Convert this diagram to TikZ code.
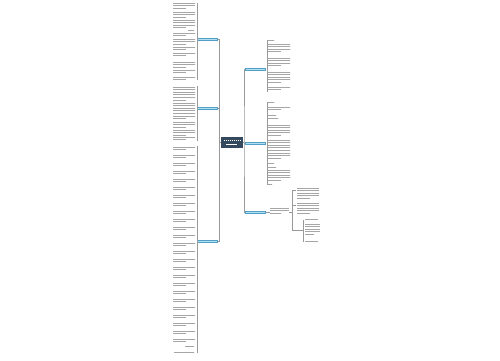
\documentclass[tikz,border=0pt]{standalone}
\definecolor{rootc}{RGB}{52,73,94}
\definecolor{brf}{RGB}{178,222,240}
\definecolor{brd}{RGB}{80,160,200}
\begin{document}
\begin{tikzpicture}[x=1pt,y=-1pt,
  txt/.style={draw=black!35,line width=0.7pt,dash pattern=on 1.6pt off 0.4pt},
  link/.style={draw=black!40,line width=0.5pt},
  branch/.style={draw=brd,fill=brf,line width=0.3pt,minimum width=20pt,minimum height=2.6pt,inner sep=0pt},
  root/.style={fill=rootc,minimum width=22pt,minimum height=11pt,inner sep=0pt}]
\useasboundingbox (0,0) rectangle (500,360);
\fill[white] (0,0) rectangle (500,360);
\newcommand{\tblock}[4]{%
  \foreach \i in {1,...,#4}{%
    \pgfmathsetmacro{\yy}{#2+2.6*(\i-1)}%
    \ifnum\i=#4 \draw[txt] (#1,\yy) -- ++(0.6*#3,0);%
    \else \draw[txt] (#1,\yy) -- ++(#3,0);\fi}}
% root
\node[root] (c) at (232,142) {};
\draw[white,line width=0.6pt,dash pattern=on 1.6pt off 0.4pt] (223.5,140) -- (240.5,140);
\draw[white,line width=0.6pt,dash pattern=on 1.6pt off 0.4pt] (226,144) -- (237,144);
% branch nodes
\node[branch] (l1) at (207.5,39) {};
\node[branch] (l2) at (207.5,108) {};
\node[branch] (l3) at (207.5,241) {};
\node[branch] (r1) at (255.5,69) {};
\node[branch] (r2) at (255.5,143) {};
\node[branch] (r3) at (255.5,212) {};
% trunk lines
\coordinate (lt) at (219.5,142);
\coordinate (rt) at (244,142);
\draw[link] (c.west) -- (lt);
\draw[link] (c.east) -- (rt);
\draw[link] (l1.east) -| (lt) |- (l3.east);
\draw[link] (l2.east) -- (l2.east -| lt);
\draw[link] (r1.west) -| (rt) |- (r3.west);
\draw[link] (r2.west) -- (r2.west -| rt);
% left brackets
\draw[link] (197,3) -- (197,80);
\draw[link] (197,86) -- (197,141);
\draw[link] (197,146) -- (197,353);
% left leaves, group 1
\foreach \y/\n in {3/3,12/3,20/4,33/2,39/3,47/2,53/2,62/3,70/2,77/2}{\tblock{173}{\y}{22}{\n}}
\draw[txt] (188,30) -- (194,30);
% group 2
\foreach \y/\n in {87/6,103/7,122/3,130/3,137/2}{\tblock{173}{\y}{22}{\n}}
% group 3
\foreach \y in {147,155,...,339}{\tblock{173}{\y}{22}{2}}
\draw[txt] (185,346) -- (194,346);
\draw[txt] (174,352) -- (194,352);
% right group 1
\draw[link] (267,40) -- (267,92);
\draw[txt] (268,40) -- (274,40);
\foreach \y/\n in {44/4,58/4,72/5,87/2}{\tblock{268}{\y}{22}{\n}}
% right group 2
\draw[link] (267,102) -- (267,185);
\draw[txt] (268,102) -- (274,102);
\foreach \y/\n in {107/2,125/5,140/8,170/5}{\tblock{268}{\y}{22}{\n}}
\draw[txt] (268,115) -- (276,115);
\draw[txt] (268,118) -- (278,118);
\draw[txt] (268,163) -- (274,163);
\draw[txt] (268,167) -- (276,167);
\draw[txt] (268,184) -- (272,184);
% right group 3
\tblock{270}{208}{19}{3}
\coordinate (s3) at (292,212);
\draw[link] (r3.east) -- (270,212);
\draw[link] (289,212) -- (s3);
\draw[link] (s3) -- (292,190) -- (296,190);
\draw[link] (s3) -- (292,230) -- (303,230);
\draw[link] (292,205) -- (296,205);
\tblock{297}{188}{22}{5}
\tblock{297}{203}{22}{5}
\draw[link] (303,220) -- (303,242);
\draw[txt] (305,219) -- (318,219);
\tblock{305}{224}{15}{5}
\draw[txt] (305,241) -- (318,241);
\end{tikzpicture}
\end{document}
